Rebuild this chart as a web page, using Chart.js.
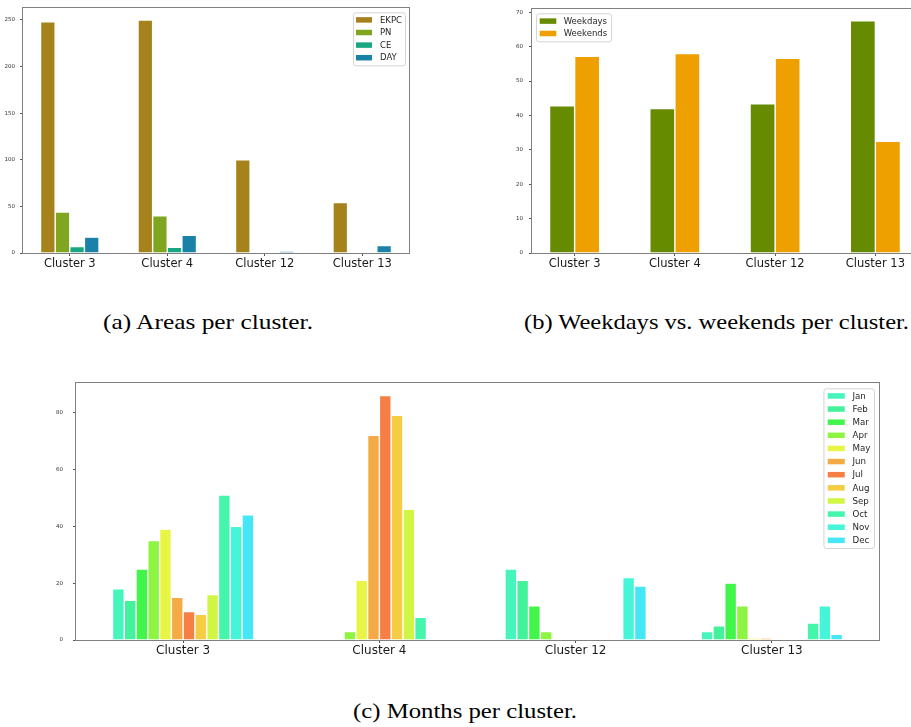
<!DOCTYPE html>
<html>
<head>
<meta charset="utf-8">
<script src="https://cdn.jsdelivr.net/npm/chart.js@4.4.1/dist/chart.umd.min.js"></script>
<style>
  html, body { margin: 0; padding: 0; background: #fff; overflow: hidden; }
  #page { position: relative; width: 911px; height: 727px; overflow: hidden; background: #fff; }
  canvas { position: absolute; }
  .caption { position: absolute; font-family: "Liberation Serif", serif; font-size: 21px; line-height: 1; color: #000; white-space: nowrap; transform-origin: 0 50%; }
</style>
</head>
<body>
<div id="page">
  <canvas id="chartAreas" width="411" height="275" style="left:0;top:0"></canvas>
  <canvas id="chartWeek" width="418" height="275" style="left:505px;top:0"></canvas>
  <canvas id="chartMonths" width="836" height="295" style="left:46px;top:370px"></canvas>
  <div class="caption" id="capA" style="left:103px;top:312px">(a) Areas per cluster.</div>
  <div class="caption" id="capB" style="left:524px;top:312px">(b) Weekdays vs. weekends per cluster.</div>
  <div class="caption" id="capC" style="left:353px;top:701px">(c) Months per cluster.</div>
</div>
<script>
const clusters = ["Cluster 3", "Cluster 4", "Cluster 12", "Cluster 13"];

// (a) areas per cluster
const areaNames = ["EKPC", "PN", "CE", "DAY"];
const areaColors = ["#a6821c", "#80a61f", "#1aa682", "#1a82a6"];
const ekpc = [248, 250, 100, 54];
const pn = [44, 40, 0, 0];
const ce = [7, 6, 0, 0];
const day = [17, 19, 2, 8];

// (b) weekdays vs weekends (%)
const weekNames = ["Weekdays", "Weekends"];
const weekColors = ["#678b00", "#eea000"];
const weekdays = [42.8, 42.0, 43.4, 67.5];
const weekends = [57.2, 58.0, 56.6, 32.5];

// (c) months per cluster
const months = ["Jan", "Feb", "Mar", "Apr", "May", "Jun", "Jul", "Aug", "Sep", "Oct", "Nov", "Dec"];
const monthColors = ["#46f5bc", "#45f29c", "#42f54b", "#8df542", "#e8f545", "#f5ab45",
                     "#f57f45", "#f5cd45", "#d0f542", "#45f5ac", "#45f5d8", "#45e6f5"];
const jan = [18, 0, 25, 3];
const feb = [14, 0, 21, 5];
const mar = [25, 0, 12, 20];
const apr = [35, 3, 3, 12];
const may = [39, 21, 0, 0.7];
const jun = [15, 72, 0, 0.7];
const jul = [10, 86, 0, 0];
const aug = [9, 79, 0, 0];
const sep = [16, 46, 0, 0];
const oct = [51, 8, 0, 6];
const nov = [40, 0, 22, 12];
const dec = [44, 0, 19, 2];
const monthValues = [jan, feb, mar, apr, may, jun, jul, aug, sep, oct, nov, dec];

Chart.defaults.font.family = '"DejaVu Sans", sans-serif';
Chart.defaults.color = "#222";

// frame (all four spines) plus a boxed legend drawn inside the plot
const boxLegend = {
  id: "boxLegend",
  afterDraw(chart, args, opts) {
    const { ctx, chartArea } = chart;
    ctx.save();
    ctx.strokeStyle = "#808080";
    ctx.lineWidth = 1;
    ctx.strokeRect(Math.round(chartArea.left) - 0.5, Math.round(chartArea.top) - 0.5,
      Math.round(chartArea.width) + 1, Math.round(chartArea.height) + 1);

    const sets = chart.data.datasets;
    ctx.font = opts.size + 'px "DejaVu Sans"';
    const textW = Math.max(...sets.map((d) => ctx.measureText(d.label).width));
    const w = opts.padL + opts.patchW + opts.gap + textW + opts.padR;
    const h = opts.padT * 2 + opts.rowH * sets.length;
    const x = opts.side === "left" ? chartArea.left + opts.inset : chartArea.right - opts.inset - w;
    const y = chartArea.top + opts.inset;

    ctx.beginPath();
    ctx.roundRect(x + 0.5, y + 0.5, w, h, 2.5);
    ctx.fillStyle = "rgba(255,255,255,0.85)";
    ctx.fill();
    ctx.strokeStyle = "#d4d4d4";
    ctx.stroke();

    ctx.textBaseline = "middle";
    ctx.textAlign = "left";
    sets.forEach((d, i) => {
      const cy = y + opts.padT + opts.rowH * (i + 0.5);
      ctx.fillStyle = d.backgroundColor;
      ctx.fillRect(x + opts.padL, cy - opts.patchH / 2, opts.patchW, opts.patchH);
      ctx.fillStyle = "#262626";
      ctx.fillText(d.label, x + opts.padL + opts.patchW + opts.gap, cy + 0.5);
    });
    ctx.restore();
  },
};

function clusterAxis(min, max, size, height) {
  return {
    type: "linear",
    min: min,
    max: max,
    bounds: "data",
    offset: false,
    afterBuildTicks: (axis) => {
      axis.ticks = clusters.map((c, i) => ({ value: i }));
    },
    afterFit: (axis) => {
      axis.height = height;
    },
    ticks: {
      callback: (v) => clusters[v],
      font: { size: size },
      color: "#1a1a1a",
      padding: 1,
      maxRotation: 0,
      autoSkip: false,
    },
    grid: { offset: false, drawOnChartArea: false, tickLength: 3, color: "#555" },
    border: { display: false },
  };
}

function countAxis(max, step, width, pad) {
  return {
    min: 0,
    max: max,
    bounds: "data",
    afterFit: (axis) => {
      axis.width = width;
    },
    ticks: { stepSize: step, includeBounds: false, font: { size: 5.5 }, color: "#333", padding: pad },
    grid: { drawOnChartArea: false, tickLength: 3, color: "#555" },
    border: { display: false },
  };
}

function barSet(label, data, color) {
  return {
    label: label,
    data: data,
    backgroundColor: color,
    borderColor: "rgba(255,255,255,0.5)",
    borderWidth: 0.7,
  };
}

const clusterIdx = clusters.map((c, i) => i);

new Chart(document.getElementById("chartAreas"), {
  type: "bar",
  data: {
    labels: clusterIdx,
    datasets: [ekpc, pn, ce, day].map((v, i) => barSet(areaNames[i], v, areaColors[i])),
  },
  options: {
    responsive: false,
    animation: false,
    categoryPercentage: 0.6,
    barPercentage: 1,
    layout: { padding: { top: 2, right: 2 } },
    scales: {
      x: clusterAxis(-0.48, 3.48, 11.5, 22),
      y: countAxis(Math.max(...ekpc, ...pn, ...ce, ...day) * 1.05, 50, 23, 5),
    },
    plugins: {
      legend: { display: false },
      tooltip: { enabled: false },
      boxLegend: { side: "right", inset: 4, size: 8.5, rowH: 12.6, padT: 1.3, padL: 3, patchW: 16, patchH: 5.5, gap: 8, padR: 3 },
    },
  },
  plugins: [boxLegend],
});

new Chart(document.getElementById("chartWeek"), {
  type: "bar",
  data: {
    labels: clusterIdx,
    datasets: [weekdays, weekends].map((v, i) => barSet(weekNames[i], v, weekColors[i])),
  },
  options: {
    responsive: false,
    animation: false,
    categoryPercentage: 0.5,
    barPercentage: 1,
    layout: { padding: { top: 2, right: 5 } },
    scales: {
      x: clusterAxis(-0.425, 3.425, 11.5, 22),
      y: countAxis(Math.max(...weekdays, ...weekends) * 1.05, 10, 27, 6),
    },
    plugins: {
      legend: { display: false },
      tooltip: { enabled: false },
      boxLegend: { side: "left", inset: 4, size: 8.5, rowH: 12.4, padT: 1.6, padL: 3.7, patchW: 16.6, patchH: 5.5, gap: 7.4, padR: 4 },
    },
  },
  plugins: [boxLegend],
});

new Chart(document.getElementById("chartMonths"), {
  type: "bar",
  data: {
    labels: clusterIdx,
    datasets: monthValues.map((v, i) => barSet(months[i], v, monthColors[i])),
  },
  options: {
    responsive: false,
    animation: false,
    categoryPercentage: 0.72,
    barPercentage: 1,
    layout: { padding: { top: 9, right: 3 } },
    scales: {
      x: clusterAxis(-0.546, 3.546, 12, 25),
      y: countAxis(Math.max(...monthValues.flat()) * 1.05, 20, 30, 10),
    },
    plugins: {
      legend: { display: false },
      tooltip: { enabled: false },
      boxLegend: { side: "right", inset: 5, size: 8.7, rowH: 13.13, padT: 1.05, padL: 4.3, patchW: 17, patchH: 5.5, gap: 7.7, padR: 3.6 },
    },
  },
  plugins: [boxLegend],
});

// captions: stretch the serif text to the width of the original typesetting
const captionWidths = { capA: 210, capB: 385, capC: 224 };
Object.keys(captionWidths).forEach((id) => {
  const el = document.getElementById(id);
  const k = captionWidths[id] / el.getBoundingClientRect().width;
  el.style.transform = "scaleX(" + k + ")";
});
</script>
</body>
</html>
